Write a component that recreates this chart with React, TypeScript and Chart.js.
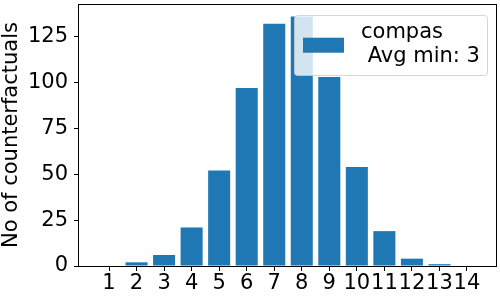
import React, { useEffect, useRef } from "react";
import { Chart, registerables } from "chart.js";

Chart.register(...registerables);

const categories = [1, 2, 3, 4, 5, 6, 7, 8, 9, 10, 11, 12, 13, 14];
const counts = [0, 2, 6, 21, 52, 97, 132, 136, 103, 54, 19, 4, 1, 0];
const yTicks = [0, 25, 50, 75, 100, 125];
const legendLines = ["compas", " Avg min: 3"];
const yTitle = "No of counterfactuals";

const FONT = "DejaVu Sans";
const FS = 21;
const BLUE = "#1f77b4";

const framePlugin = {
  id: "frame",
  afterDatasetsDraw(chart: any) {
    const { ctx, chartArea: a } = chart;
    ctx.save();
    ctx.strokeStyle = "#000";
    ctx.lineWidth = 1;
    ctx.strokeRect(a.left - 0.5, a.top + 0.5, a.right - a.left, a.bottom - a.top);
    ctx.restore();
  },
};

const legendPlugin = {
  id: "mplLegend",
  afterDraw(chart: any) {
    const { ctx, chartArea: a } = chart;
    const w = 193;
    const h = 60;
    const x = a.right - 10 - w + 0.5;
    const y = a.top + 11 + 0.5;
    const r = 3;
    ctx.save();
    ctx.beginPath();
    ctx.moveTo(x + r, y);
    ctx.lineTo(x + w - r, y);
    ctx.arcTo(x + w, y, x + w, y + r, r);
    ctx.lineTo(x + w, y + h - r);
    ctx.arcTo(x + w, y + h, x + w - r, y + h, r);
    ctx.lineTo(x + r, y + h);
    ctx.arcTo(x, y + h, x, y + h - r, r);
    ctx.lineTo(x, y + r);
    ctx.arcTo(x, y, x + r, y, r);
    ctx.closePath();
    ctx.fillStyle = "rgba(255,255,255,0.8)";
    ctx.fill();
    ctx.strokeStyle = "rgba(204,204,204,0.8)";
    ctx.lineWidth = 1;
    ctx.stroke();
    ctx.fillStyle = BLUE;
    ctx.fillRect(x + 8.5, y + 22.2, 41, 15);
    ctx.fillStyle = "#000";
    ctx.font = `${FS}px "${FONT}"`;
    ctx.textBaseline = "alphabetic";
    ctx.textAlign = "left";
    ctx.fillText(legendLines[0], x + 66.5, y + 22.8);
    ctx.fillText(legendLines[1], x + 66.5, y + 46.8);
    ctx.restore();
  },
};

const zeroPad = (s: any) => {
  s.paddingTop = 0;
  s.paddingBottom = 0;
  s.paddingLeft = 0;
  s.paddingRight = 0;
};

export default function App() {
  const ref = useRef<HTMLCanvasElement | null>(null);
  useEffect(() => {
    if (!ref.current) return;
    const chart = new Chart(ref.current, {
      type: "bar",
      data: {
        datasets: [
          {
            label: legendLines.join("\n"),
            data: categories.map((c, i) => ({ x: c, y: counts[i] })),
            backgroundColor: BLUE,
            borderWidth: 0,
            categoryPercentage: 0.8,
            barPercentage: 1,
          },
        ],
      },
      options: {
        animation: false,
        responsive: true,
        maintainAspectRatio: false,
        layout: { padding: { left: 0, right: 3, top: 4, bottom: 0 } },
        plugins: {
          legend: { display: false },
          tooltip: { enabled: false },
        },
        scales: {
          x: {
            type: "linear",
            offset: false,
            min: -0.09,
            max: 15.09,
            afterBuildTicks: (s: any) => {
              s.ticks = categories.map((v) => ({ value: v }));
            },
            afterFit: (s: any) => {
              s.height = 34;
              zeroPad(s);
            },
            grid: {
              display: true,
              offset: false,
              drawOnChartArea: false,
              drawTicks: true,
              tickLength: 5,
              color: "#000",
              lineWidth: 1,
            },
            border: { display: false },
            ticks: {
              autoSkip: false,
              maxRotation: 0,
              padding: 0,
              color: "#000",
              font: { family: FONT, size: FS },
              callback: (v: any) => String(v),
            },
          },
          y: {
            type: "linear",
            min: 0,
            max: 142.8,
            afterBuildTicks: (s: any) => {
              s.ticks = yTicks.map((v) => ({ value: v }));
            },
            afterFit: (s: any) => {
              s.width = 79;
              zeroPad(s);
            },
            grid: {
              display: true,
              drawOnChartArea: false,
              drawTicks: true,
              tickLength: 5,
              color: "#000",
              lineWidth: 1,
            },
            border: { display: false },
            ticks: {
              padding: 6,
              color: "#000",
              font: { family: FONT, size: FS },
              callback: (v: any) => String(v),
            },
            title: {
              display: true,
              text: yTitle,
              color: "#000",
              font: { family: FONT, size: FS },
              padding: { top: -1, bottom: 0 },
            },
          },
        },
      },
      plugins: [framePlugin, legendPlugin],
    });
    return () => chart.destroy();
  }, []);
  return (
    <div style={{ position: "fixed", left: 0, top: 0, width: 500, height: 300, background: "#fff" }}>
      <canvas ref={ref} />
    </div>
  );
}
